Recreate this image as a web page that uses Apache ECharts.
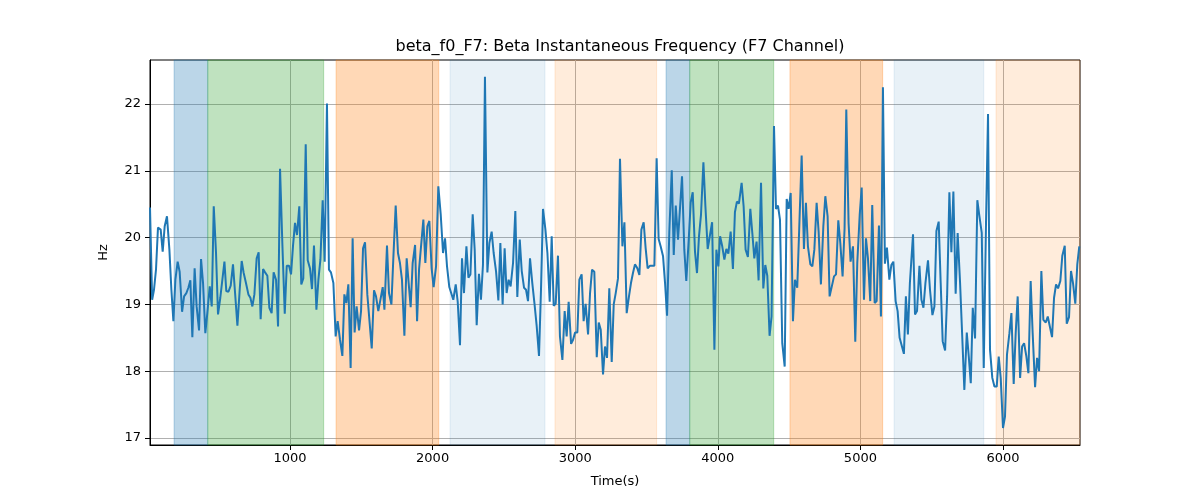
<!DOCTYPE html>
<html>
<head>
<meta charset="utf-8">
<script src="https://cdn.jsdelivr.net/npm/echarts@6/dist/echarts.min.js"></script>
<style>html,body{margin:0;padding:0;background:#fff;}#chart{width:1200px;height:500px;}</style>
</head>
<body>
<div id="chart"></div>
<script>
const titleText = 'beta_f0_F7: Beta Instantaneous Frequency (F7 Channel)';
const xName = 'Time(s)';
const yName = 'Hz';
const xTicks = [1000, 2000, 3000, 4000, 5000, 6000];
const yTicks = [17, 18, 19, 20, 21, 22];

const times = [18,33,46,60,74,93,107,121,137,154,168,182,196,212,226,243,257,273,287,301,315,331,345,362,376,390,406,420,437,451,465,481,495,511,525,540,553,568,584,600,617,631,647,661,675,691,708,722,736,750,766,780,794,811,825,841,855,871,885,902,916,930,946,963,977,993,1007,1021,1035,1049,1065,1079,1093,1110,1124,1140,1154,1168,1185,1199,1213,1229,1243,1259,1273,1287,1304,1320,1334,1350,
1367,1381,1395,1409,1425,1439,1453,1467,1484,1498,1512,1526,1542,1556,1573,1589,1603,1619,1633,1650,1662,1680,1694,1711,1725,1741,1757,1771,1785,1802,1818,1832,1846,1860,1877,1891,1905,1919,1935,1949,1963,1977,1993,2007,2024,2040,2057,2073,2087,2101,2117,2131,2145,2162,2176,2192,2206,2220,2237,2251,2265,2281,2295,2309,2325,2339,2353,2367,2384,2398,2414,2428,2445,2461,2475,2491,2505,2519,2533,2547,2564,2580,2594,2611,2625,2641,2655,2669,2683,
2699,2714,2730,2746,2760,2774,2791,2805,2821,2835,2849,2863,2879,2893,2910,2926,2940,2954,2971,2985,2999,3015,3029,3045,3059,3073,3090,3104,3118,3134,3151,3165,3179,3195,3209,3223,3239,3256,3270,3284,3300,3314,3331,3345,3361,3377,3391,3405,3419,3436,3450,3464,3480,3494,3508,3525,3539,3555,3571,3585,3599,3616,3630,3644,3660,3677,3691,3705,3721,3735,3749,3765,3779,3796,3810,3824,3840,3854,3868,3882,3899,3913,3929,3943,3960,3976,3990,4004,4016,
4031,4046,4060,4074,4090,4106,4120,4134,4148,4167,4181,4195,4211,4228,4242,4256,4272,4286,4303,4319,4333,4347,4363,4377,4394,4408,4422,4436,4452,4469,4483,4497,4511,4527,4541,4557,4571,4588,4604,4618,4632,4649,4663,4677,4693,4707,4723,4740,4754,4770,4784,4798,4815,4829,4845,4859,4875,4889,4901,4917,4931,4948,4964,4978,4995,5009,5025,5039,5053,5069,5083,5100,5114,5130,5144,5158,5172,5186,5203,5217,5231,5247,5261,5275,5289,5305,5319,5333,5347,
5355,5369,5383,5397,5414,5428,5442,5456,5474,5488,5505,5519,5533,5549,5563,5577,5594,5608,5624,5638,5652,5668,5682,5699,5715,5729,5746,5760,5774,5788,5804,5820,5834,5851,5865,5881,5895,5909,5925,5940,5956,5970,5984,6000,6014,6028,6045,6059,6075,6089,6103,6120,6134,6148,6164,6178,6194,6208,6225,6239,6253,6269,6283,6300,6314,6328,6344,6358,6372,6386,6402,6416,6433,6447,6463,6477,6491,6507,6521,6535];

const values = [20.45,19.07,19.22,19.52,20.15,20.12,19.79,20.17,20.32,19.82,19.22,18.75,19.37,19.64,19.49,18.89,19.12,19.17,19.25,19.36,18.51,19.54,18.97,18.61,19.68,19.32,18.57,18.87,19.27,18.97,20.47,19.77,18.85,19.10,19.11,19.64,19.20,19.19,19.28,19.60,19.10,18.68,19.22,19.65,19.47,19.32,19.15,19.10,18.97,19.15,19.69,19.78,18.78,19.53,19.48,19.43,18.95,18.87,19.48,19.37,18.67,21.03,19.92,18.86,19.58,19.58,19.45,19.88,20.22,20.04,20.47,19.30,19.39,21.40,19.66,19.54,19.23,19.88,18.92,19.37,19.67,20.56,19.64,22.01,19.52,19.48,19.32,18.52,18.75,18.48,
18.23,19.15,19.02,19.30,18.05,19.99,18.58,18.97,18.61,18.90,19.84,19.93,19.15,19.14,18.34,19.21,19.12,18.90,19.06,19.26,18.92,19.88,19.17,19.00,19.72,20.48,19.77,19.62,19.37,18.53,19.69,19.32,18.96,19.62,19.89,18.75,19.53,19.54,20.27,19.62,20.17,20.25,19.54,19.26,19.57,20.77,20.34,19.77,19.99,19.57,19.26,19.27,19.07,19.30,19.04,18.39,19.69,19.17,19.87,19.40,19.45,20.35,19.82,18.69,19.46,19.07,19.59,22.41,19.48,19.92,20.09,19.77,19.49,19.06,19.92,19.00,19.84,19.17,19.37,19.27,19.62,20.40,19.11,19.97,19.50,19.25,19.22,19.05,19.69,
19.32,19.02,18.67,18.23,19.22,20.43,20.12,19.77,19.04,20.02,18.98,19.01,19.73,18.52,18.17,18.90,18.52,19.04,18.41,18.47,18.58,18.58,19.37,19.45,18.75,19.01,18.55,19.17,19.52,19.49,18.21,18.73,18.62,17.95,18.37,18.20,19.24,18.14,19.00,19.17,19.39,21.18,19.87,20.23,18.87,19.12,19.32,19.47,19.60,19.54,19.44,20.12,20.23,19.84,19.54,19.58,19.57,19.58,21.19,19.98,19.87,19.72,19.32,18.83,20.09,21.01,19.74,20.48,19.97,19.97,20.92,19.82,19.35,19.97,20.53,20.68,19.79,19.47,20.02,20.34,21.13,20.47,19.83,19.83,20.23,18.32,19.82,19.57,20.02,
19.87,19.67,19.83,19.76,20.09,19.53,20.38,20.54,20.51,20.82,20.47,19.82,19.71,20.43,20.07,19.69,19.94,19.36,20.82,19.24,19.59,19.43,18.53,18.82,21.67,20.43,20.48,20.27,18.42,18.07,20.58,20.43,20.67,18.75,19.37,19.25,20.14,21.23,19.83,20.52,19.87,19.60,19.57,19.82,20.52,20.09,19.30,20.17,20.62,20.32,19.12,19.12,19.42,19.45,20.26,19.92,19.42,20.14,21.92,20.22,19.64,19.87,18.44,19.62,20.34,20.75,19.07,19.99,19.69,19.05,20.49,19.02,19.05,20.18,18.82,22.25,19.61,19.85,19.37,19.59,19.64,19.05,18.90,18.50,18.52,18.26,19.12,18.55,19.32,
19.32,20.05,18.85,18.90,19.58,19.07,18.95,19.32,19.66,19.22,18.84,18.97,20.10,20.24,19.32,18.45,18.31,19.12,20.68,19.78,20.69,19.16,20.07,19.32,18.47,17.72,18.58,18.22,17.82,18.95,18.49,20.56,20.33,20.07,18.05,20.24,21.85,18.32,17.90,17.77,17.77,18.22,17.90,17.15,17.32,18.25,18.57,18.87,17.81,18.57,19.12,17.90,18.37,18.42,18.22,17.97,19.35,18.57,17.76,18.20,18.00,19.50,18.77,18.73,18.82,18.84,18.51,19.10,19.30,19.24,19.35,19.73,19.88,18.71,18.81,19.50,19.32,19.01,19.60,19.87];

// shaded periods: start, end, colour
const spanStarts = [187, 423, 1323, 2122, 2858, 3637, 3803, 4506, 5236, 5951];
const spanEnds   = [423, 1236, 2043, 2788, 3571, 3803, 4392, 5156, 5865, 6540];
const spanColors = ['rgba(31,119,180,0.3)','rgba(44,160,44,0.3)','rgba(255,127,14,0.3)','rgba(31,119,180,0.1)','rgba(255,127,14,0.15)',
                    'rgba(31,119,180,0.3)','rgba(44,160,44,0.3)','rgba(255,127,14,0.3)','rgba(31,119,180,0.1)','rgba(255,127,14,0.15)'];

const xMin = 18, xMax = 6540;
const yMin = 16.895, yMax = 22.66;

const lineData = times.map((t, i) => [t, values[i]]);
const areas = spanStarts.map((s, i) => [
  {xAxis: s, itemStyle: {color: spanColors[i], borderColor: spanColors[i], borderWidth: 1}},
  {xAxis: spanEnds[i]}
]);

const font = 'DejaVu Sans';
const chart = echarts.init(document.getElementById('chart'), null, {renderer: 'canvas'});
chart.setOption({
  animation: false,
  backgroundColor: '#fff',
  title: {
    text: titleText, left: 615, top: 34, textAlign: 'center',
    textStyle: {fontFamily: font, fontSize: 16, fontWeight: 'normal', color: '#000'}
  },
  grid: {left: 150, right: 120, top: 60, bottom: 55, show: true, borderColor: '#000', borderWidth: 1, backgroundColor: 'transparent'},
  xAxis: {
    type: 'value', min: xMin, max: xMax,
    name: xName, nameLocation: 'middle', nameGap: 30,
    nameTextStyle: {fontFamily: font, fontSize: 13, color: '#000'},
    axisLine: {show: true, onZero: false, lineStyle: {color: '#000', width: 1}},
    axisTick: {show: true, length: 5, lineStyle: {color: '#000'}, customValues: xTicks},
    axisLabel: {fontFamily: font, fontSize: 13, color: '#000', margin: 7, customValues: xTicks,
      formatter: v => String(v)},
    splitLine: {show: true, lineStyle: {color: '#b0b0b0', width: 1}}
  },
  yAxis: {
    type: 'value', min: yMin, max: yMax,
    name: yName, nameLocation: 'middle', nameGap: 40, nameRotate: 90,
    nameTextStyle: {fontFamily: font, fontSize: 13, color: '#000'},
    axisLine: {show: true, onZero: false, lineStyle: {color: '#000', width: 1}},
    axisTick: {show: true, length: 5, lineStyle: {color: '#000'}, customValues: yTicks},
    axisLabel: {fontFamily: font, fontSize: 13, color: '#000', margin: 9, customValues: yTicks,
      formatter: v => String(Math.round(v))},
    splitLine: {show: true, lineStyle: {color: '#b0b0b0', width: 1}}
  },
  series: [
    {
      type: 'line', data: [], z: 1, silent: true,
      markArea: {silent: true, data: areas}
    },
    {
      type: 'line', data: lineData, z: 3, showSymbol: false, symbol: 'none',
      lineStyle: {color: '#1f77b4', width: 2}, itemStyle: {color: '#1f77b4'}
    }
  ]
});
</script>
</body>
</html>
